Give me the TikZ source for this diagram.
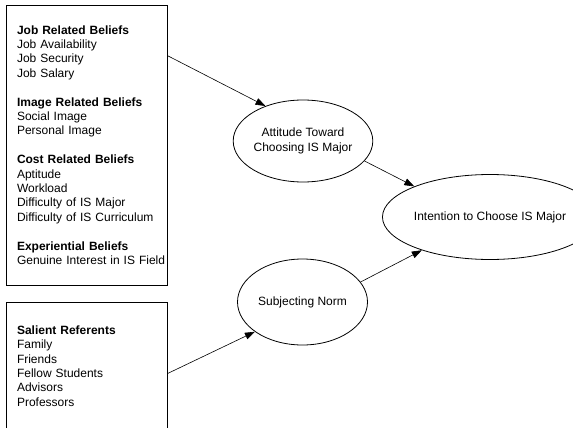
\documentclass[tikz,border=0pt]{standalone}
\usepackage{fontspec}
\setmainfont{Liberation Sans}
\usetikzlibrary{arrows.meta,positioning,shapes.geometric,calc}
\tikzset{
  beliefbox/.style = {rectangle, draw, line width=0.8pt, minimum width=161pt, text width=139pt, inner xsep=11pt, align=left},
  construct/.style = {ellipse, draw, line width=0.8pt, inner sep=0pt, align=center},
  patharrow/.style = {-{Triangle[length=10pt,width=7pt]}, line width=0.6pt},
}

\begin{document}
\begin{tikzpicture}[x=1pt, y=-1pt, every node/.style={font=\fontsize{12}{14.4}\selectfont}]
\useasboundingbox (0,0) rectangle (573,428);
\node[beliefbox, minimum height=280pt] (beliefs) at (86.5,145) {\textbf{Job Related Beliefs}\\Job Availability\\Job Security\\Job Salary\\[14.4pt]
  \textbf{Image Related Beliefs}\\Social Image\\Personal Image\\[14.4pt]
  \textbf{Cost Related Beliefs}\\Aptitude\\Workload\\Difficulty of IS Major\\Difficulty of IS Curriculum\\[14.4pt]
  \textbf{Experiential Beliefs}\\\mbox{Genuine Interest in IS Field}};
\node[beliefbox, minimum height=128pt] (referents) at (86.5,366) {\textbf{Salient Referents}\\Family\\Friends\\Fellow Students\\Advisors\\Professors};
\node[construct, minimum width=130pt, minimum height=82pt] (attitude) at (303,141) {Attitude Toward\\Choosing IS Major};
\node[construct, minimum width=130pt, minimum height=86pt] (norm) at (302.5,302) {Subjecting Norm};
\node[construct, minimum width=164pt, minimum height=85pt] (intention) at (490,217) {Intention to Choose IS Major};
\coordinate (jobout) at ($(beliefs.north east)+(0,51)$);
\coordinate (refout) at ($(referents.north east)+(0,72)$);
\draw[patharrow] (jobout) -- (attitude.137);
\draw[patharrow] (attitude.-18) -- (intention.158);
\draw[patharrow] (norm.19) -- (intention.206);
\draw[patharrow] (refout) -- (norm.212);
\end{tikzpicture}
\end{document}
